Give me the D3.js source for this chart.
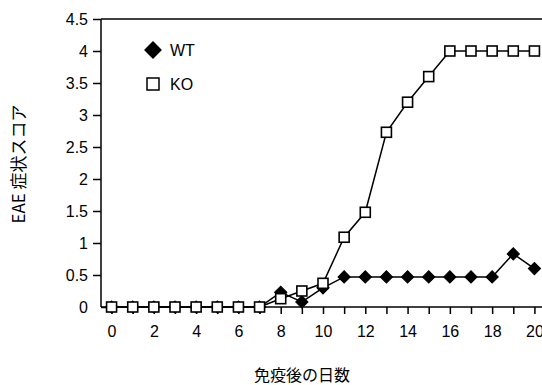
<!DOCTYPE html>
<html>
<head>
<meta charset="utf-8">
<script src="https://cdn.jsdelivr.net/npm/d3@7"></script>
<style>
  body { margin: 0; background: #fff; }
  svg { display: block; }
  .axis text { font-family: "Liberation Sans", Arial, sans-serif; font-size: 16px; fill: #000; }
  .axis path, .axis line { stroke: #000; stroke-width: 1.5; }
</style>
</head>
<body>
<div id="chart"></div>
<script>
const days = d3.range(0, 21);
const wtScores = [0, 0, 0, 0, 0, 0, 0, 0, 0.23, 0.08, 0.3, 0.47, 0.47, 0.47, 0.47, 0.47, 0.47, 0.47, 0.47, 0.83, 0.6];
const koScores = [0, 0, 0, 0, 0, 0, 0, 0, 0.13, 0.25, 0.37, 1.09, 1.48, 2.73, 3.2, 3.6, 4, 4, 4, 4, 4];
const yTicks = [0, 0.5, 1, 1.5, 2, 2.5, 3, 3.5, 4, 4.5];
const xTickLabels = [0, 2, 4, 6, 8, 10, 12, 14, 16, 18, 20];
const seriesNames = ["WT", "KO"];
const yTitle = "EAE 症状スコア";
const xTitle = "免疫後の日数";

const W = 542, H = 385;
const margin = { top: 19, right: -3, bottom: 78, left: 101 };
const width = W - margin.left - margin.right;
const height = H - margin.top - margin.bottom;

const svg = d3.select("#chart").append("svg").attr("width", W).attr("height", H);
const g = svg.append("g").attr("transform", `translate(${margin.left},${margin.top})`);

const x = d3.scaleLinear().domain([-0.5, 20.5]).range([0, width]);
const y = d3.scaleLinear().domain([0, 4.5]).range([height, 0]);

// top frame line
g.append("line").attr("x1", 0).attr("x2", width).attr("y1", 0).attr("y2", 0)
  .attr("stroke", "#000").attr("stroke-width", 1.5);

const yAxis = g.append("g").attr("class", "axis")
  .call(d3.axisLeft(y).tickValues(yTicks).tickSize(8).tickPadding(5)
    .tickFormat(d => d3.format("")(d)));

const xAxis = g.append("g").attr("class", "axis")
  .attr("transform", `translate(0,${height})`)
  .call(d3.axisBottom(x).tickValues(days).tickSize(7).tickPadding(12)
    .tickFormat(d => xTickLabels.includes(d) ? d : ""));
xAxis.select(".domain").attr("d", `M0,0H${width}`);
yAxis.select(".domain").attr("d", `M0,${height}V0`);
// the zero tick extends across the y axis a bit
yAxis.selectAll(".tick").filter(d => d === 0).select("line").attr("x2", 6);

const line = d3.line().x((d, i) => x(days[i])).y(d => y(d));

g.append("path").datum(wtScores).attr("d", line)
  .attr("fill", "none").attr("stroke", "#000").attr("stroke-width", 1.5);
g.append("path").datum(koScores).attr("d", line)
  .attr("fill", "none").attr("stroke", "#000").attr("stroke-width", 1.5);

const diamond = d3.symbol().type(d3.symbolSquare).size(75);

g.selectAll(".wt").data(wtScores).join("path").attr("class", "wt")
  .attr("d", diamond)
  .attr("transform", (d, i) => `translate(${x(days[i])},${y(d)}) rotate(45)`)
  .attr("fill", "#000").attr("stroke", "#000").attr("stroke-width", 1);

g.selectAll(".ko").data(koScores).join("rect").attr("class", "ko")
  .attr("x", (d, i) => x(days[i]) - 5).attr("y", d => y(d) - 5)
  .attr("width", 10).attr("height", 10)
  .attr("fill", "#fff").attr("stroke", "#000").attr("stroke-width", 1.6);

// legend
const legend = g.append("g").attr("transform", "translate(52,31)");
legend.append("path").attr("d", d3.symbol().type(d3.symbolSquare).size(160))
  .attr("transform", "rotate(45)").attr("fill", "#000");
legend.append("rect").attr("x", -6).attr("y", 28).attr("width", 12).attr("height", 12)
  .attr("fill", "#fff").attr("stroke", "#000").attr("stroke-width", 1.5);
legend.selectAll("text").data(seriesNames).join("text")
  .attr("x", 17).attr("y", (d, i) => i * 34 + 6)
  .attr("font-family", "Liberation Sans, Arial, sans-serif").attr("font-size", 16)
  .text(d => d);

svg.append("text")
  .attr("transform", `translate(25,164) rotate(-90)`)
  .attr("text-anchor", "middle")
  .attr("font-family", "Noto Sans CJK JP, sans-serif").attr("font-size", 17)
  .text(yTitle);

svg.append("text")
  .attr("x", 302).attr("y", 381)
  .attr("text-anchor", "middle")
  .attr("font-family", "Noto Sans CJK JP, sans-serif").attr("font-size", 16)
  .text(xTitle);
</script>
</body>
</html>
